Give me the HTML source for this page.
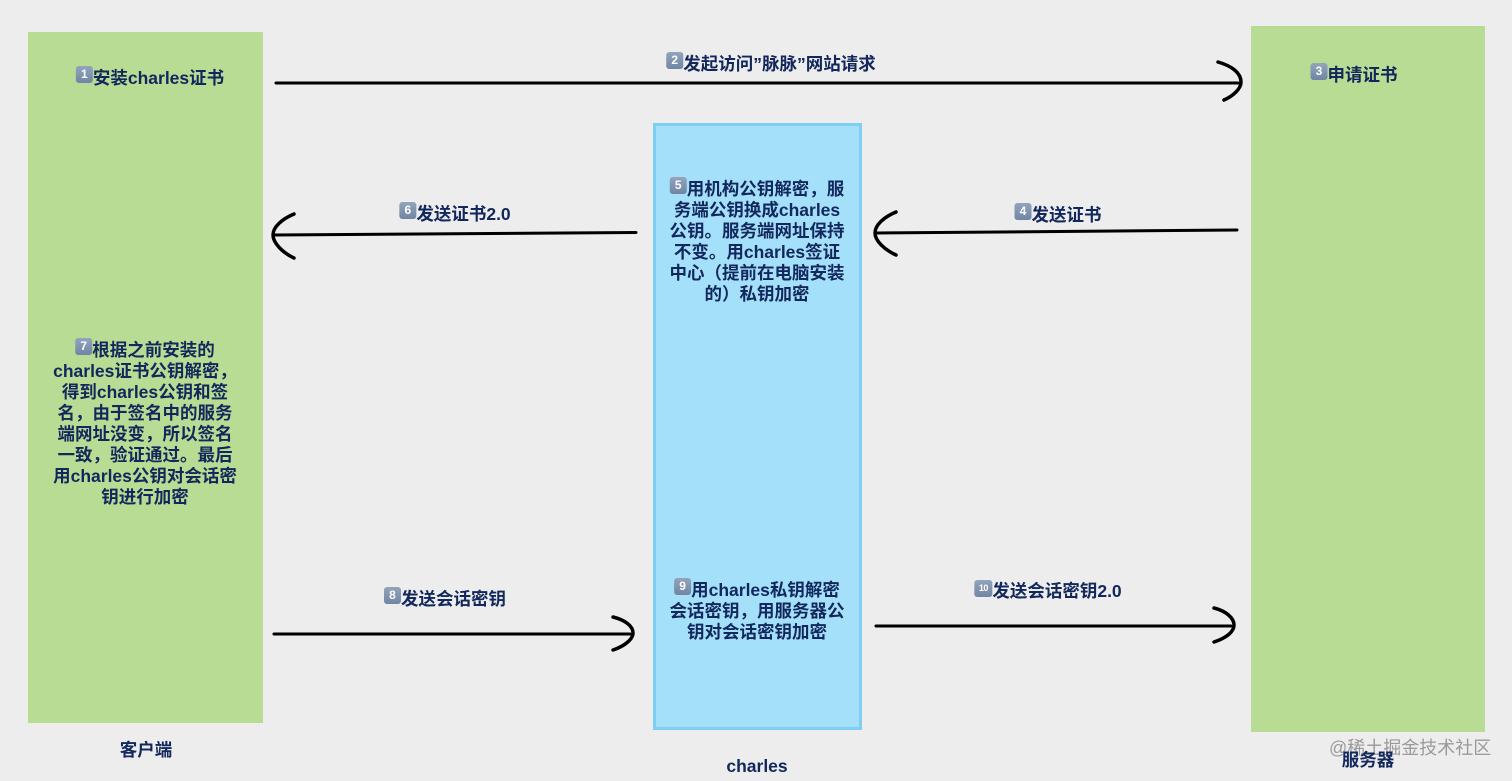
<!DOCTYPE html>
<html lang="zh">
<head>
<meta charset="utf-8">
<style>
html,body{margin:0;padding:0;}
body{width:1512px;height:781px;background:#ededed;position:relative;overflow:hidden;font-family:"Liberation Sans","Noto Sans CJK SC",sans-serif;}
.box{position:absolute;box-sizing:border-box;}
.green{background:#b9dc94;}
.t{position:absolute;margin-top:1px;transform:translateX(-50%);white-space:nowrap;font-weight:bold;font-size:17.5px;line-height:21px;color:#12275c;}
.k{display:inline-block;position:relative;top:-7px;width:17px;height:17px;border-radius:3px;background:linear-gradient(#93a5bc,#6f85a3);color:#fff;font-size:12px;line-height:17px;text-align:center;vertical-align:-1px;font-weight:bold;}
.k.w{width:18px;font-size:9px;letter-spacing:-.5px;}
svg{position:absolute;left:0;top:0;}
.wm{position:absolute;left:1329px;top:737px;font-size:18px;line-height:22px;color:#9a9a9a;white-space:nowrap;}
</style>
</head>
<body>
<div class="box green" style="left:28px;top:32px;width:235px;height:691px;"></div>
<div class="box green" style="left:1251px;top:26px;width:234px;height:706px;"></div>
<div class="box" style="left:653px;top:123px;width:209px;height:607px;background:#a5e0fb;border:3px solid #7dcff5;"></div>

<svg width="1512" height="781" viewBox="0 0 1512 781" fill="none" stroke="#000" stroke-linecap="round">
<g stroke-width="3">
<path d="M276 83H1238"/>
<path d="M636 232.500L274 235"/>
<path d="M1237 230L877 233"/>
<path d="M274 634H630"/>
<path d="M876 626H1231"/>
</g>
<g stroke-width="3.500">
<path d="M1218 62C1232 66 1241 73 1241 82C1241 89 1233 96 1224 100"/>
<path d="M294 214C282 219 273 227 273 235C273 243 283 253 294 258"/>
<path d="M896 212C884 217 875 225 875 233C875 241 885 250 896 255"/>
<path d="M613 617C625 620 633 626 633 633C633 639 625 646 613 650"/>
<path d="M1214 608C1226 611 1234 618 1234 625C1234 632 1226 638 1214 642"/>
</g>
</svg>

<div class="t" style="left:150px;top:67px;"><span class="k">1</span>安装charles证书</div>
<div class="t" style="left:771px;top:53px;"><span class="k">2</span>发起访问”脉脉”网站请求</div>
<div class="t" style="left:1354px;top:64px;"><span class="k">3</span>申请证书</div>
<div class="t" style="left:1058px;top:204px;"><span class="k">4</span>发送证书</div>
<div class="t" style="left:455px;top:203px;"><span class="k">6</span>发送证书2.0</div>

<div class="t" style="left:757px;top:178px;"><span class="k">5</span>用机构公钥解密，服</div>
<div class="t" style="left:757px;top:199px;">务端公钥换成charles</div>
<div class="t" style="left:757px;top:220px;">公钥。服务端网址保持</div>
<div class="t" style="left:757px;top:241px;">不变。用charles签证</div>
<div class="t" style="left:757px;top:262px;">中心（提前在电脑安装</div>
<div class="t" style="left:757px;top:283px;">的）私钥加密</div>

<div class="t" style="left:145px;top:339px;"><span class="k">7</span>根据之前安装的</div>
<div class="t" style="left:145px;top:360px;">charles证书公钥解密，</div>
<div class="t" style="left:145px;top:381px;">得到charles公钥和签</div>
<div class="t" style="left:145px;top:402px;">名，由于签名中的服务</div>
<div class="t" style="left:145px;top:423px;">端网址没变，所以签名</div>
<div class="t" style="left:145px;top:444px;">一致，验证通过。最后</div>
<div class="t" style="left:145px;top:465px;">用charles公钥对会话密</div>
<div class="t" style="left:145px;top:486px;">钥进行加密</div>

<div class="t" style="left:445px;top:588px;"><span class="k">8</span>发送会话密钥</div>
<div class="t" style="left:757px;top:579px;"><span class="k">9</span>用charles私钥解密</div>
<div class="t" style="left:757px;top:600px;">会话密钥，用服务器公</div>
<div class="t" style="left:757px;top:621px;">钥对会话密钥加密</div>
<div class="t" style="left:1048px;top:580px;"><span class="k w">10</span>发送会话密钥2.0</div>

<div class="t" style="left:146px;top:739px;">客户端</div>
<div class="t" style="left:757px;top:755px;">charles</div>
<div class="wm">@稀土掘金技术社区</div>
<div class="t" style="left:1368px;top:749px;">服务器</div>
</body>
</html>
